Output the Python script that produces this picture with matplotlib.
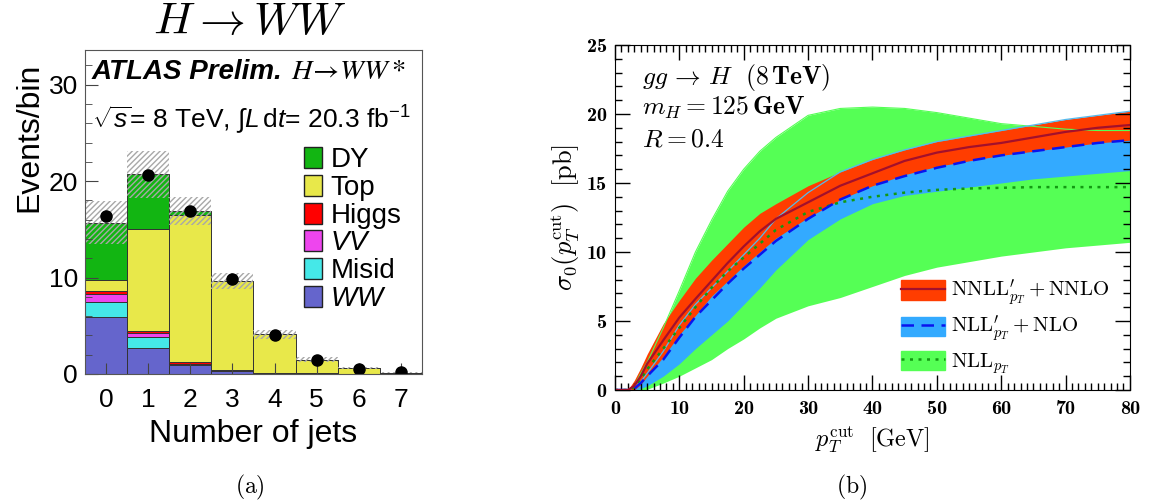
import numpy as np
import matplotlib.pyplot as plt
from matplotlib.patches import Patch
from matplotlib.lines import Line2D
from matplotlib.ticker import MultipleLocator
from matplotlib.font_manager import FontProperties

plt.rcParams['font.family'] = 'Liberation Sans'
plt.rcParams['mathtext.fontset'] = 'custom'
plt.rcParams['mathtext.rm'] = 'Liberation Sans'
plt.rcParams['mathtext.it'] = 'Liberation Sans:italic'
plt.rcParams['mathtext.bf'] = 'Liberation Sans:bold'
plt.rcParams['hatch.linewidth'] = 1.0

# ---- (a) H->WW jet multiplicity
njets = np.arange(8)
ww    = [5.9, 2.65, 0.9, 0.3, 0.05, 0.03, 0.01, 0.0]
misid = [1.6, 1.15, 0.1, 0.05, 0.02, 0.01, 0.0, 0.0]
vv    = [0.75, 0.4, 0.05, 0.03, 0.01, 0.0, 0.0, 0.0]
higgs = [0.35, 0.3, 0.15, 0.07, 0.02, 0.01, 0.0, 0.0]
top   = [1.15, 10.5, 15.3, 9.2, 4.0, 1.45, 0.6, 0.15]
dy    = [5.95, 5.7, 0.4, 0.0, 0.0, 0.0, 0.0, 0.0]
data  = [16.4, 20.6, 16.9, 9.8, 4.05, 1.45, 0.5, 0.2]
syst  = [2.2, 2.4, 1.5, 0.85, 0.45, 0.25, 0.1, 0.05]

# ---- (b) sigma_0(pT cut)
pt = [0, 2, 3, 4, 5, 7.5, 10, 12.5, 15, 17.5, 20, 22.5, 25, 30, 35, 40, 45, 50, 55, 60, 65, 70, 75, 80]
nnll_c  = [0, 0, 0.3, 1.0, 1.9, 3.6, 5.25, 6.6, 7.9, 9.2, 10.4, 11.5, 12.4, 13.6, 14.8, 15.7, 16.6, 17.2, 17.6, 17.9, 18.3, 18.7, 19.0, 19.2]
nnll_hi = [0, 0, 0.7, 1.6, 2.6, 4.8, 6.5, 8.1, 9.4, 10.6, 11.8, 12.8, 13.5, 14.8, 15.8, 16.7, 17.4, 18.0, 18.4, 18.8, 19.2, 19.6, 19.9, 20.2]
nnll_lo = [0, 0, 0, 0.4, 1.0, 2.4, 4.0, 5.4, 6.8, 7.9, 9.0, 10.0, 11.0, 12.5, 13.8, 14.8, 15.6, 16.2, 16.6, 17.0, 17.3, 17.6, 17.9, 18.1]
nlo_c   = [0, 0, 0.1, 0.5, 1.0, 2.2, 3.8, 5.3, 6.5, 7.7, 8.8, 9.8, 10.8, 12.4, 13.8, 14.8, 15.5, 16.1, 16.6, 17.0, 17.3, 17.6, 17.9, 18.1]
nlo_hi  = [0, 0, 0.2, 0.6, 1.2, 2.8, 4.7, 6.2, 7.4, 8.6, 9.8, 11.0, 12.4, 14.3, 15.8, 16.7, 17.4, 18.0, 18.4, 18.8, 19.2, 19.6, 19.9, 20.2]
nlo_lo  = [0, 0, 0, 0.1, 0.3, 1.0, 1.9, 3.0, 4.0, 5.0, 6.2, 7.4, 8.7, 10.9, 12.4, 13.5, 14.1, 14.4, 14.7, 15.0, 15.3, 15.5, 15.7, 15.9]
nll_c   = [0, 0, 0.2, 0.8, 1.5, 3.0, 4.5, 6.0, 7.4, 8.6, 9.6, 10.6, 11.6, 12.9, 13.6, 14.0, 14.3, 14.5, 14.6, 14.65, 14.7, 14.7, 14.7, 14.7]
nll_hi  = [0, 0, 0.3, 1.2, 2.0, 4.5, 7.2, 10.0, 12.3, 14.4, 16.0, 17.3, 18.3, 19.9, 20.4, 20.5, 20.4, 20.1, 19.7, 19.3, 19.1, 18.9, 18.8, 18.8]
nll_lo  = [0, 0, 0, 0, 0.05, 0.5, 1.0, 1.6, 2.2, 3.0, 3.7, 4.5, 5.2, 6.1, 6.7, 7.5, 8.3, 8.9, 9.3, 9.7, 10.0, 10.3, 10.5, 10.7]

fig = plt.figure(figsize=(11.51, 5.03), dpi=100)

# ================= panel (a)
ax = fig.add_axes([0.0738, 0.2565, 0.2928, 0.6441])
samples = [(ww, '#6565cc', r'$WW$'), (misid, '#45e8e8', 'Misid'), (vv, '#ee45ee', r'$VV$'),
           (higgs, '#ff0000', 'Higgs'), (top, '#e8e84a', 'Top'), (dy, '#12b512', 'DY')]
bottom = np.zeros(len(njets))
handles = []
for vals, col, lab in samples:
    ax.bar(njets, vals, width=1.0, bottom=bottom, color=col, edgecolor='#333333', linewidth=0.7)
    bottom = bottom + np.array(vals)
    handles.append(Patch(facecolor=col, edgecolor='#222222', linewidth=1.0, label=lab))
syst = np.array(syst)
ax.bar(njets, 2 * syst, width=1.0, bottom=bottom - syst, fill=False, hatch='//////',
       edgecolor='#a8a8a8', linewidth=0)
ax.plot(njets, data, 'o', color='black', markersize=8)

ax.set_xlim(-0.5, 7.5)
ax.set_ylim(0, 33.6)
ax.set_xticks(njets)
ax.yaxis.set_major_locator(MultipleLocator(10))
ax.yaxis.set_minor_locator(MultipleLocator(2))
ax.tick_params(which='both', direction='in', labelsize=19, color='#444444')
ax.tick_params(axis='x', which='major', length=8, pad=10)
ax.tick_params(axis='y', which='major', length=9, pad=5)
ax.tick_params(axis='y', which='minor', length=5)
for s in ax.spines.values():
    s.set_color('#555555')
ax.set_xlabel('Number of jets', fontsize=23)
ax.xaxis.set_label_coords(0.5, -0.14)
ax.set_ylabel('Events/bin', fontsize=23, loc='top')
ax.yaxis.set_label_coords(-0.12, 0.96)

leg = ax.legend(handles=handles[::-1], loc='upper left', bbox_to_anchor=(0.65, 0.70),
                frameon=False, fontsize=20, handlelength=0.65, handleheight=0.8,
                handletextpad=0.3, labelspacing=0.05, borderpad=0, borderaxespad=0)

ax.text(0.02, 0.932, 'ATLAS Prelim.', transform=ax.transAxes, fontsize=20,
        fontweight='bold', style='italic', va='center')
ax.text(0.612, 0.932, r'$H\!\rightarrow\!WW*$', transform=ax.transAxes, fontsize=20.5,
        math_fontfamily='stix', va='center')
ax.text(0.02, 0.784, r'$\sqrt{s}$= 8 TeV, $\int L\,$d$t$= 20.3 fb$^{-1}$', transform=ax.transAxes,
        fontsize=19, va='center')

fig.text(250 / 1151, 1 - 22 / 503, r'$H \rightarrow WW$', fontsize=33, math_fontfamily='cm',
         ha='center', va='center')
fig.text(250 / 1151, 1 - 487 / 503, r'$\mathrm{(a)}$', fontsize=17, math_fontfamily='cm',
         ha='center', va='center')

# ================= panel (b)
bx = fig.add_axes([0.5343, 0.2247, 0.4474, 0.6859])
bx.fill_between(pt, nll_lo, nll_hi, color='#55ff55', linewidth=0)
bx.fill_between(pt, nlo_lo, nlo_hi, color='#33aaff', linewidth=0)
bx.fill_between(pt, nnll_lo, nnll_hi, color='#ff3d00', linewidth=0)
bx.plot(pt, nll_hi, color='#55ff55', lw=0.8)
bx.plot(pt, nlo_hi, color='#55bbee', lw=0.9)
bx.plot(pt, nll_c, color='#129912', lw=1.8, ls=(0, (1.2, 2.2)))
bx.plot(pt, nlo_c, color='#0a14ee', lw=1.8, ls=(0, (5, 3)))
bx.plot(pt, nnll_c, color='#a3102c', lw=1.6)

bx.set_xlim(0, 80)
bx.set_ylim(0, 25)
bx.xaxis.set_major_locator(MultipleLocator(10))
bx.xaxis.set_minor_locator(MultipleLocator(1))
bx.yaxis.set_major_locator(MultipleLocator(5))
bx.yaxis.set_minor_locator(MultipleLocator(1))
bx.tick_params(which='both', direction='in', top=True, right=True, width=1.0)
bx.tick_params(which='major', length=11)
bx.tick_params(which='minor', length=5)
bx.tick_params(axis='x', pad=7)
bx.tick_params(axis='y', pad=6)
bold = FontProperties(family='cmb10', size=14.5)
for lab in bx.get_xticklabels() + bx.get_yticklabels():
    lab.set_fontproperties(bold)

bx.set_xlabel(r'$p_T^{\rm cut}\ \ [\rm GeV]$', fontsize=17.5, math_fontfamily='cm')
bx.xaxis.set_label_coords(0.5, -0.10)
bx.set_ylabel(r'$\sigma_0(p_T^{\rm cut})\ \ [\rm pb]$', fontsize=19, math_fontfamily='cm')
bx.yaxis.set_label_coords(-0.065, 0.5)

bx.text(0.052, 0.907, r'$gg\,\rightarrow\,H\ \ (8\,\mathbf{TeV})$', transform=bx.transAxes,
        fontsize=18.5, math_fontfamily='cm', va='center')
bx.text(0.052, 0.817, r'$m_H = 125\,\mathbf{GeV}$', transform=bx.transAxes,
        fontsize=18.5, math_fontfamily='cm', va='center')
bx.text(0.052, 0.725, r'$R = 0.4$', transform=bx.transAxes,
        fontsize=18.5, math_fontfamily='cm', va='center')

lh = [(Patch(color='#ff3d00'), Line2D([], [], color='#a3102c', lw=1.6)),
      (Patch(color='#33aaff'), Line2D([], [], color='#0a14ee', lw=1.8, ls=(0, (5, 3)))),
      (Patch(color='#55ff55'), Line2D([], [], color='#129912', lw=1.8, ls=(0, (1.2, 2.2))))]
ll = [r'$\mathrm{NNLL}^{\prime}_{p_T}+\mathrm{NNLO}$', r'$\mathrm{NLL}^{\prime}_{p_T}+\mathrm{NLO}$',
      r'$\mathrm{NLL}_{p_T}$']
leg2 = bx.legend(lh, ll, loc='upper left', bbox_to_anchor=(0.555, 0.325), frameon=False,
                 prop=FontProperties(size=15, math_fontfamily='cm'), handlelength=2.1, handleheight=1.06,
                 handletextpad=0.3, labelspacing=0.3, borderpad=0, borderaxespad=0)

fig.text(852 / 1151, 1 - 487 / 503, r'$\mathrm{(b)}$', fontsize=17, math_fontfamily='cm',
         ha='center', va='center')

fig.savefig('out.png', dpi=100)
